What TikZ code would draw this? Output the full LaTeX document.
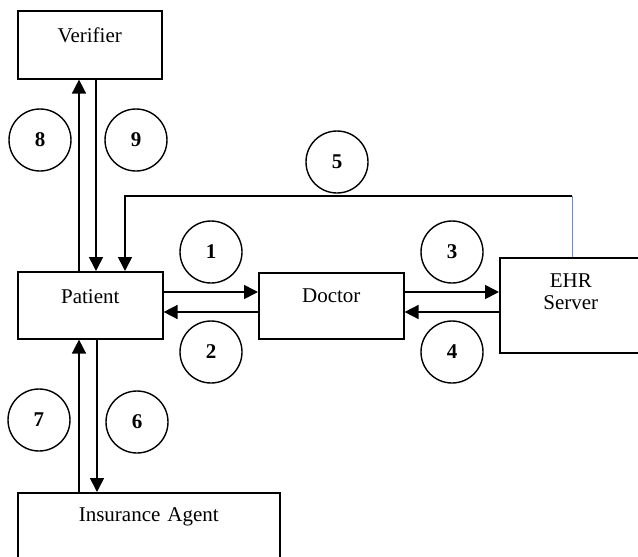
\documentclass[tikz,border=0pt]{standalone}
\usepackage{fontspec}
\setmainfont{Liberation Serif}
\usetikzlibrary{arrows.meta}
\definecolor{ehrblue}{RGB}{95,140,210}
\newcommand{\labelsize}{\fontsize{21}{22}\selectfont}
\tikzset{
box/.style={draw, line width=1.6pt, inner sep=0pt, anchor=north west, align=center},
num/.style={circle, draw, line width=1.4pt, minimum size=62pt, inner sep=0pt, font=\labelsize\bfseries},
flow/.style={line width=1.6pt, -{Triangle[length=14pt,width=14pt]}}
}
\begin{document}
\begin{tikzpicture}[x=1pt, y=-1pt, font=\labelsize]
\path[use as bounding box, clip] (0,0) rectangle (638,557);
\node[box, text width=144pt, text height=32pt, text depth=36pt] (verifier) at (17,10) {Verifier};
\node[box, text width=145pt, text height=32pt, text depth=35pt] (patient) at (17,271) {Patient};
\node[box, text width=145pt, text height=30pt, text depth=36pt] (doctor) at (258,272) {Doctor};
\node[box, text width=142pt, text height=30pt, text depth=65pt] (ehr) at (499,257) {EHR\\Server};
\node[box, text width=262pt, text height=29pt, text depth=80pt] (agent) at (17,492) {Insurance Agent};
\node[num] (n1) at (211,252) {1};
\node[num] (n2) at (211,352) {2};
\node[num] (n3) at (452,252) {3};
\node[num] (n4) at (452,352) {4};
\node[num] (n5) at (337,162) {5};
\node[num] (n6) at (137,422) {6};
\node[num] (n7) at (39,420) {7};
\node[num] (n8) at (40,140) {8};
\node[num] (n9) at (136,140) {9};
\coordinate (turn) at (572,196);
% patient <-> doctor <-> ehr
\draw[flow] (patient.east |- 0,292) -- (doctor.west |- 0,292);
\draw[flow] (doctor.west |- 0,312) -- (patient.east |- 0,312);
\draw[flow] (doctor.east |- 0,292) -- (ehr.west |- 0,292);
\draw[flow] (ehr.west |- 0,312) -- (doctor.east |- 0,312);
% verifier
\draw[flow] (79,0 |- patient.north) -- (79,0 |- verifier.south);
\draw[flow] (96,0 |- verifier.south) -- (96,0 |- patient.north);
% ehr -> patient
\draw[ehrblue, line width=0.8pt] (turn |- ehr.north) -- (turn);
\draw[flow] (turn) -- (125,196) -- (125,0 |- patient.north);
% insurance agent
\draw[flow] (79,0 |- agent.north) -- (79,0 |- patient.south);
\draw[flow] (97,0 |- patient.south) -- (97,0 |- agent.north);
\end{tikzpicture}
\end{document}
